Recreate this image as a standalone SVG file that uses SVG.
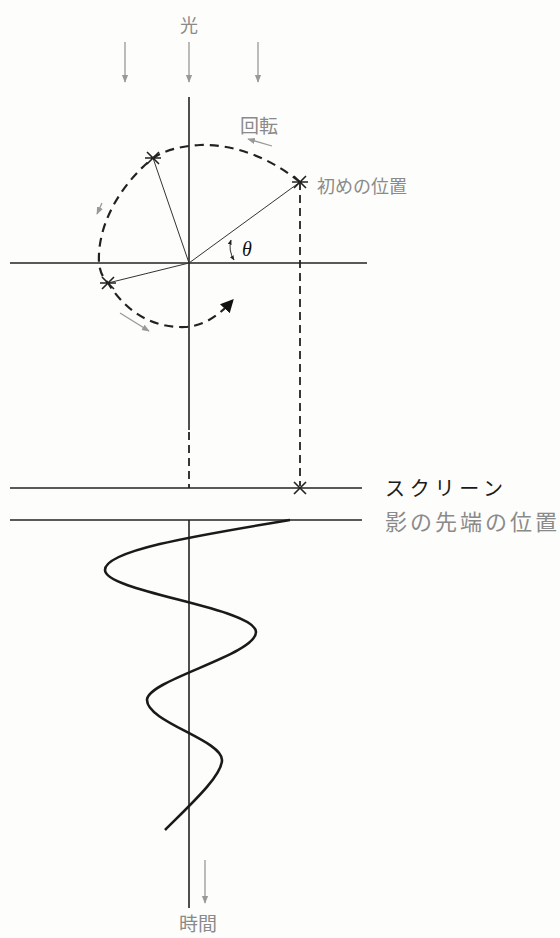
<svg xmlns="http://www.w3.org/2000/svg" width="560" height="938" viewBox="0 0 560 938">
<style>
.ln{stroke:#222;stroke-width:1.6;fill:none}
.thin{stroke:#333;stroke-width:1;fill:none}
.dash{stroke:#222;stroke-width:2.2;fill:none;stroke-dasharray:9 6}
.vdash{stroke:#222;stroke-width:1.8;fill:none;stroke-dasharray:8 5}
.gray{stroke:#999;stroke-width:1.3;fill:none}
.wave{stroke:#1a1a1a;stroke-width:2.6;fill:none}
.gt{font-family:"Noto Sans CJK JP","Noto Sans",sans-serif;fill:#8a8a8a}
.bt{font-family:"Noto Sans CJK JP","Noto Sans",sans-serif;fill:#1a1a1a}
.star{stroke:#222;stroke-width:1.6}
</style>
<defs>
<marker id="ga" viewBox="0 0 10 10" refX="9" refY="5" markerWidth="6" markerHeight="6" orient="auto"><path d="M0,1 L10,5 L0,9 z" fill="#999"/></marker>
<marker id="ba" viewBox="0 0 10 10" refX="8" refY="5" markerWidth="6" markerHeight="6" orient="auto"><path d="M0,0 L10,5 L0,10 z" fill="#111"/></marker>
<marker id="sa" viewBox="0 0 10 10" refX="9" refY="5" markerWidth="5" markerHeight="5" orient="auto-start-reverse"><path d="M0,1 L10,5 L0,9 z" fill="#222"/></marker>
</defs>
<rect width="560" height="938" fill="#fdfdfb"/>
<g id="light">
<text class="gt" x="189" y="32" font-size="18" text-anchor="middle">光</text>
<line class="gray" x1="125" y1="42" x2="125" y2="82" marker-end="url(#ga)"/>
<line class="gray" x1="189" y1="42" x2="189" y2="82" marker-end="url(#ga)"/>
<line class="gray" x1="258" y1="42" x2="258" y2="82" marker-end="url(#ga)"/>
</g>
<g id="connectors">
<line class="ln" x1="189" y1="97" x2="189" y2="430"/>
<line class="vdash" x1="189" y1="432" x2="189" y2="488" stroke-dasharray="6 4"/>
<line class="ln" x1="189" y1="520" x2="189" y2="908"/>
<line class="ln" x1="10" y1="263" x2="367" y2="263"/>
<line class="ln" x1="10" y1="488" x2="362" y2="488"/>
<line class="ln" x1="10" y1="520" x2="362" y2="520"/>
<line class="thin" x1="189" y1="263" x2="300" y2="182"/>
<line class="thin" x1="189" y1="263" x2="153" y2="158"/>
<line class="thin" x1="189" y1="263" x2="108" y2="283"/>
<line class="vdash" x1="300" y1="182" x2="300" y2="486"/>
<path class="dash" d="M300,182 C270,158 235,144 200,145 C180,146 163,151 153,158 C120,185 97,225 99,263 C100,272 103,278 108,283 C125,310 150,328 185,327 C205,326 220,314 232,301" marker-end="url(#ba)"/>
<path class="thin" d="M231,240 Q228,250 234,260" marker-start="url(#sa)" marker-end="url(#sa)" stroke-width="1.6"/>
<line class="gray" x1="272" y1="146" x2="248" y2="139" marker-end="url(#ga)" stroke-width="2"/>
<line class="gray" x1="102" y1="203" x2="97" y2="214" marker-end="url(#ga)" stroke-width="2"/>
<line class="gray" x1="120" y1="313" x2="149" y2="331" marker-end="url(#ga)" stroke-width="2"/>
<path class="wave" d="M290,520 C200,535 105,550 105,570 C105,592 256,608 256,632 C256,655 147,680 147,700 C147,722 222,740 222,760 C222,776 190,805 165,830"/>
<line class="gray" x1="205" y1="860" x2="205" y2="903" marker-end="url(#ga)"/>
</g>
<g id="stars">
<path class="star" d="M294,176 L306,188 M306,176 L294,188 M292,182 L308,182"/>
<path class="star" d="M147,152 L159,164 M159,152 L147,164 M145,158 L161,158"/>
<path class="star" d="M102,277 L114,289 M114,277 L102,289 M100,283 L116,283"/>
<path class="star" d="M294,482 L306,494 M306,482 L294,494"/>
</g>
<g id="labels">
<text class="gt" x="240" y="133" font-size="19">回転</text>
<text class="gt" x="317" y="193" font-size="18">初めの位置</text>
<text x="242" y="256" font-size="20" font-style="italic" font-family="'Liberation Serif',serif" fill="#111">θ</text>
<text class="bt" x="385" y="496" font-size="20" textLength="118">スクリーン</text>
<text class="gt" x="385" y="530" font-size="22" textLength="172">影の先端の位置</text>
<text class="gt" x="198" y="931" font-size="19" text-anchor="middle">時間</text>
</g>
</svg>
